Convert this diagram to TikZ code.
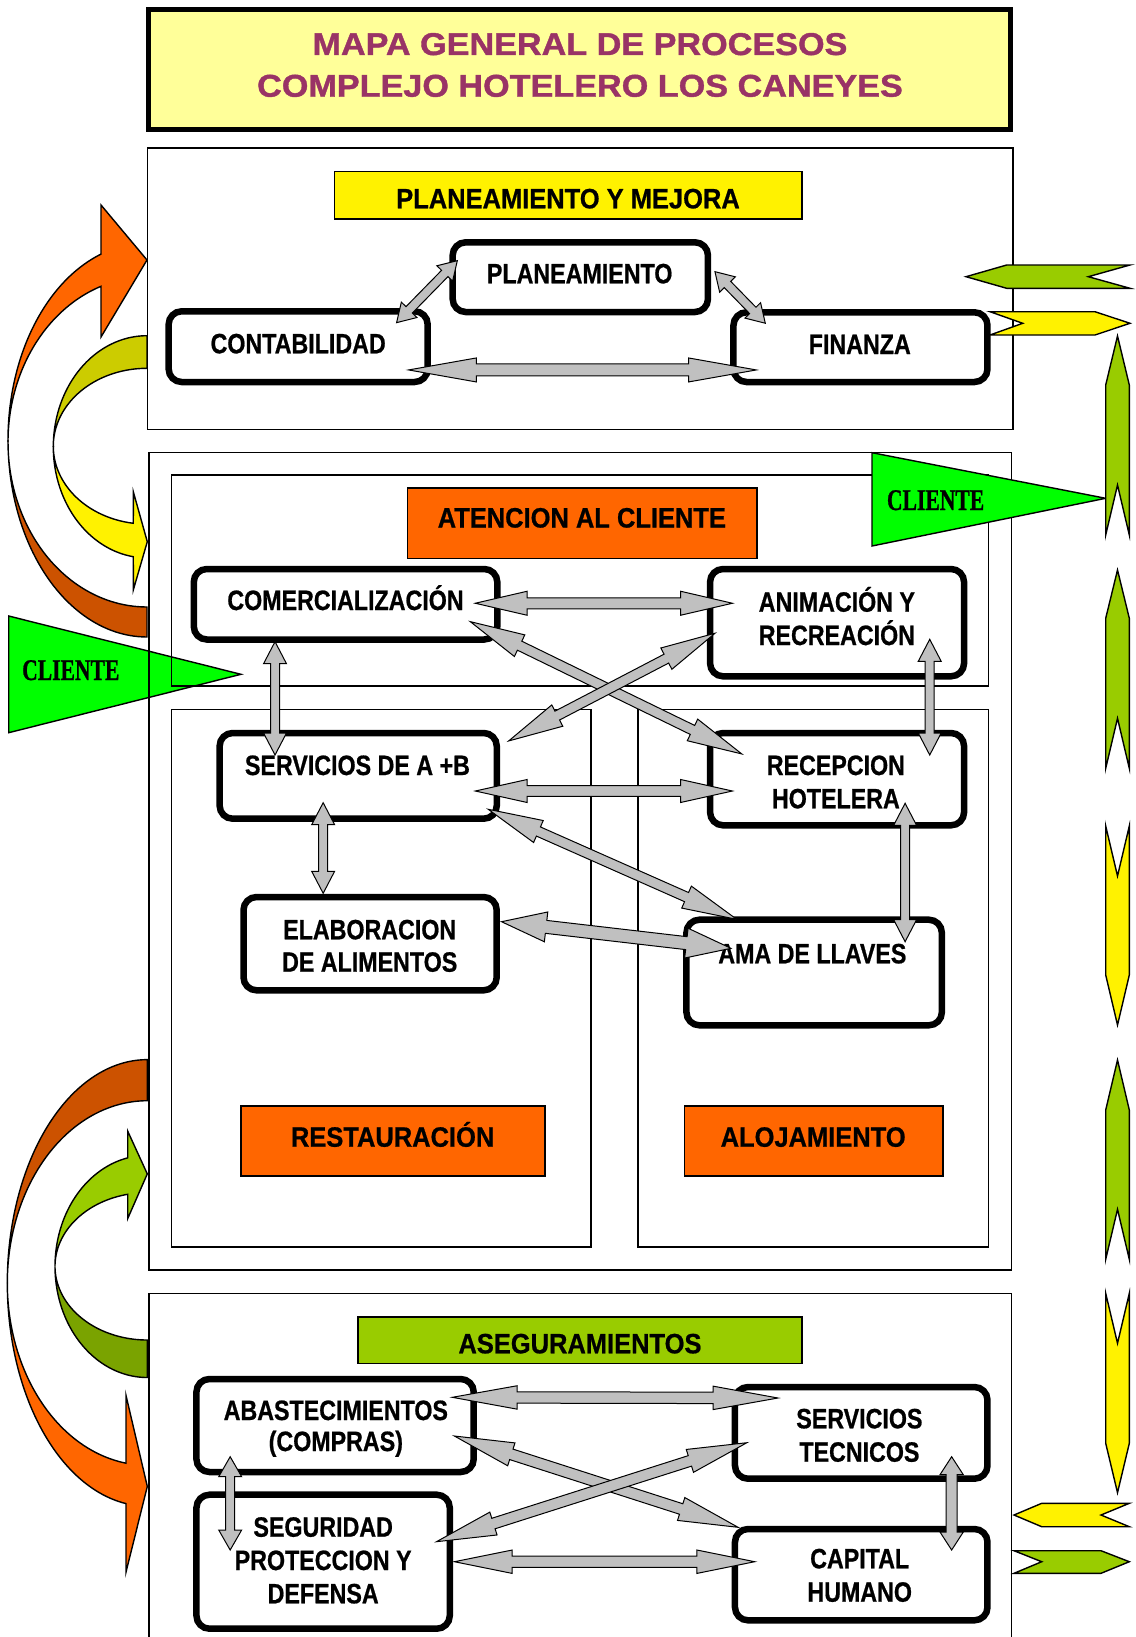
\documentclass[tikz,border=0pt]{standalone}
\usepackage{fontspec}
\usetikzlibrary{calc}
\setmainfont{Liberation Sans}
\newfontfamily\titlefont{Liberation Sans}[FakeStretch=1.085, FakeBold=1.2]
\newfontfamily\headfont{Liberation Sans}[FakeStretch=0.91, FakeBold=0.7]
\newfontfamily\procfont{Liberation Sans}[FakeStretch=0.83, FakeBold=0.7]
\newfontfamily\clientfont{Liberation Serif}[FakeStretch=0.72, FakeBold=0.8]

\definecolor{titlefill}{HTML}{FFFF99}
\definecolor{titletext}{HTML}{993366}
\definecolor{boxorange}{HTML}{FF6600}
\definecolor{darkorange}{HTML}{CC5200}
\definecolor{limegreen}{HTML}{99CC00}
\definecolor{darkgreen}{HTML}{7AA300}
\definecolor{oliveyellow}{HTML}{CCCC00}
\definecolor{brightgreen}{HTML}{00FF00}
\definecolor{arrowgray}{HTML}{C0C0C0}

\tikzset{
  procbox/.style={draw=black, line width=6.5pt, fill=white, rounded corners=13pt,
    inner sep=0pt, outer sep=0pt},
  headbox/.style={draw=black, line width=1.6pt, inner sep=0pt, outer sep=0pt},
  sectionbox/.style={draw=black, line width=1.6pt},
  proctext/.style={font=\procfont\bfseries\fontsize{28}{33}\selectfont, anchor=base, inner sep=0pt},
  headtext/.style={font=\headfont\bfseries\fontsize{28}{33}\selectfont, anchor=base, inner sep=0pt},
  titletextstyle/.style={font=\titlefont\bfseries\fontsize{31.5}{36}\selectfont, text=titletext,
    anchor=base, inner sep=0pt},
  clienttext/.style={font=\clientfont\bfseries\fontsize{30}{34}\selectfont, anchor=base, inner sep=0pt},
  twowayarrow/.style={fill=arrowgray, draw=black, line width=1pt, line join=miter},
  shapeline/.style={draw=black, line width=1.4pt, line join=miter},
}

% two-headed block arrow between two points:
% #1,#2 tips, #3 half shaft width, #4 half head width, #5 head length
\newcommand\drawtwoway[5]{%
  \filldraw[twowayarrow] (#1)
    -- ($(#1)!#5pt!(#2)!#4pt!90:(#2)$)
    -- ($(#1)!#5pt!(#2)!#3pt!90:(#2)$)
    -- ($(#2)!#5pt!(#1)!#3pt!-90:(#1)$)
    -- ($(#2)!#5pt!(#1)!#4pt!-90:(#1)$)
    -- (#2)
    -- ($(#2)!#5pt!(#1)!#4pt!90:(#1)$)
    -- ($(#2)!#5pt!(#1)!#3pt!90:(#1)$)
    -- ($(#1)!#5pt!(#2)!#3pt!-90:(#2)$)
    -- ($(#1)!#5pt!(#2)!#4pt!-90:(#2)$)
    -- cycle;}

\begin{document}
\begin{tikzpicture}[x=1pt, y=-1pt]
\useasboundingbox (0,0) rectangle (1135,1637);
\clip (0,0) rectangle (1135,1637);
\fill[white] (0,0) rectangle (1135,1637);

% ---------- curved feedback arrows on the left ----------
% upper pair
\filldraw[shapeline, fill=darkorange]
  plot[domain=180:90, samples=50, variable=\t] ({147+139*cos(\t)},{440+197*sin(\t)})
  -- plot[domain=90:180, samples=50, variable=\t] ({147+139*cos(\t)},{442+165*sin(\t)}) -- cycle;
\filldraw[shapeline, fill=boxorange]
  plot[domain=180:250.67, samples=50, variable=\t] ({147+139*cos(\t)},{440+197*sin(\t)})
  -- (101,205) -- (147,260) -- (101,337)
  -- plot[domain=250.67:180, samples=50, variable=\t] ({147+139*cos(\t)},{442+165*sin(\t)}) -- cycle;
\filldraw[shapeline, fill=oliveyellow]
  plot[domain=270:180, samples=50, variable=\t] ({147+93.7*cos(\t)},{446.8+111.1*sin(\t)})
  -- plot[domain=180:270, samples=50, variable=\t] ({147+93.7*cos(\t)},{446.2+77.9*sin(\t)}) -- cycle;
\filldraw[shapeline, fill=yellow]
  plot[domain=180:98.41, samples=50, variable=\t] ({147+93.7*cos(\t)},{446.8+111.1*sin(\t)})
  -- (133.3,590) -- (147.3,541.7) -- (133.3,491.7)
  -- plot[domain=98.41:180, samples=50, variable=\t] ({147+93.7*cos(\t)},{446.2+77.9*sin(\t)}) -- cycle;
% lower pair
\filldraw[shapeline, fill=darkorange]
  plot[domain=270:180, samples=50, variable=\t] ({147.3+140*cos(\t)},{1282.9+223.3*sin(\t)})
  -- plot[domain=180:270, samples=50, variable=\t] ({147.3+140*cos(\t)},{1283+182.3*sin(\t)}) -- cycle;
\filldraw[shapeline, fill=boxorange]
  plot[domain=180:98.75, samples=50, variable=\t] ({147.3+140*cos(\t)},{1282.9+223.3*sin(\t)})
  -- (126,1572.1) -- (147.3,1486.4) -- (126,1395.4)
  -- plot[domain=98.75:180, samples=50, variable=\t] ({147.3+140*cos(\t)},{1283+182.3*sin(\t)}) -- cycle;
\filldraw[shapeline, fill=darkgreen]
  plot[domain=180:90, samples=50, variable=\t] ({147.3+92.3*cos(\t)},{1266.4+111.1*sin(\t)})
  -- plot[domain=90:180, samples=50, variable=\t] ({147.3+92.3*cos(\t)},{1266.3+73.7*sin(\t)}) -- cycle;
\filldraw[shapeline, fill=limegreen]
  plot[domain=180:257.74, samples=50, variable=\t] ({147.3+92.3*cos(\t)},{1266.4+111.1*sin(\t)})
  -- (127.7,1131.1) -- (147.3,1173.9) -- (127.7,1218.6)
  -- plot[domain=257.74:180, samples=50, variable=\t] ({147.3+92.3*cos(\t)},{1266.3+73.7*sin(\t)}) -- cycle;

% ---------- incoming client ----------
\filldraw[shapeline, fill=brightgreen] (8.7,616) -- (8.7,732.7) -- (241,674.3) -- cycle;
\node[clienttext] (clientin) at (70.8,680) {CLIENTE};

\begin{scope}[xscale=0.9965]
% ---------- title ----------
\node[draw=black, line width=5pt, fill=titlefill, minimum width=862pt, minimum height=120pt,
  inner sep=0pt, outer sep=0pt] (titlebox) at (582,69.5) {};
\node[titletextstyle] (title1) at (582,55) {MAPA GENERAL DE PROCESOS};
\node[titletextstyle] (title2) at (582,96.7) {COMPLEJO HOTELERO LOS CANEYES};

% ---------- process areas ----------
\draw[sectionbox] (148,148.3) rectangle (1016.7,429.3);
\draw[sectionbox] (149.4,452.3) rectangle (1015,1270);
\draw[sectionbox] (172,475) rectangle (992,686);
\draw[sectionbox] (172,709.3) rectangle (593.3,1246.7);
\draw[sectionbox] (640.5,709.3) rectangle (992,1246.7);
\draw[sectionbox] (149.4,1293.3) rectangle (1015,1680);

% ---------- area headings ----------
\node[headbox, fill=yellow, minimum width=467.5pt, minimum height=47.6pt] (pmhead) at (570.05,195.5) {};
\node[headtext] (pmtext) at (570,208.3) {PLANEAMIENTO Y MEJORA};
\node[headbox, fill=boxorange, minimum width=349.5pt, minimum height=70.6pt] (atnhead) at (584.25,523) {};
\node[headtext] (atntext) at (583.9,527.5) {ATENCION AL CLIENTE};
\node[headbox, fill=boxorange, minimum width=304pt, minimum height=70pt] (resthead) at (394.3,1141) {};
\node[headtext] (resttext) at (394,1146.7) {RESTAURACIÓN};
\node[headbox, fill=boxorange, minimum width=258.4pt, minimum height=70pt] (alojhead) at (816.65,1141) {};
\node[headtext] (alojtext) at (816,1146.7) {ALOJAMIENTO};
\node[headbox, fill=limegreen, minimum width=443.5pt, minimum height=46.6pt] (aseghead) at (582.05,1340) {};
\node[headtext] (asegtext) at (582,1353.3) {ASEGURAMIENTOS};

% ---------- processes ----------
\node[procbox, minimum width=255.3pt, minimum height=69.7pt] (plan) at (582.35,277.15) {};
\node[procbox, minimum width=259pt, minimum height=70.7pt] (cont) at (299.2,346.65) {};
\node[procbox, minimum width=254pt, minimum height=69.7pt] (fin) at (863.5,347.15) {};
\node[proctext] (plant) at (581.7,283.3) {PLANEAMIENTO};
\node[proctext] (contt) at (299.2,353.3) {CONTABILIDAD};
\node[proctext] (fint) at (862.8,354) {FINANZA};

\node[procbox, minimum width=303.5pt, minimum height=70.5pt] (comer) at (346.75,604.25) {};
\node[procbox, minimum width=254pt, minimum height=107.3pt] (anim) at (840,622.65) {};
\node[procbox, minimum width=277.1pt, minimum height=85.7pt] (serv) at (359.45,775.85) {};
\node[procbox, minimum width=254pt, minimum height=92.3pt] (recep) at (840,779.15) {};
\node[procbox, minimum width=253.2pt, minimum height=93.3pt] (elab) at (371.4,943.65) {};
\node[procbox, minimum width=255.4pt, minimum height=105.6pt] (ama) at (817,972.5) {};
\node[proctext] (comert) at (346.7,610) {COMERCIALIZACIÓN};
\node[proctext] (animta) at (839.8,611.7) {ANIMACIÓN Y};
\node[proctext] (animtb) at (839.8,645) {RECREACIÓN};
\node[proctext] (servt) at (358.7,775) {SERVICIOS DE A +B};
\node[proctext] (recepta) at (838.8,775) {RECEPCION};
\node[proctext] (receptb) at (838.8,808.3) {HOTELERA};
\node[proctext] (elabta) at (371,939.3) {ELABORACION};
\node[proctext] (elabtb) at (371,971.7) {DE ALIMENTOS};
\node[proctext] (amat) at (815.2,963.3) {AMA DE LLAVES};

\node[procbox, minimum width=277.3pt, minimum height=93pt] (abast) at (336.25,1425.5) {};
\node[procbox, minimum width=252.5pt, minimum height=91.7pt] (stec) at (864.25,1432.85) {};
\node[procbox, minimum width=253.3pt, minimum height=134pt] (segur) at (324.25,1561.7) {};
\node[procbox, minimum width=252.5pt, minimum height=91.3pt] (capital) at (864.25,1574.65) {};
\node[proctext] (abastta) at (337,1420) {ABASTECIMIENTOS};
\node[proctext] (abasttb) at (337,1451) {(COMPRAS)};
\node[proctext] (stecta) at (862.4,1428.3) {SERVICIOS};
\node[proctext] (stectb) at (862.4,1461.7) {TECNICOS};
\node[proctext] (segurta) at (324.3,1536.7) {SEGURIDAD};
\node[proctext] (segurtb) at (324.3,1570) {PROTECCION Y};
\node[proctext] (segurtc) at (324.3,1603.3) {DEFENSA};
\node[proctext] (capta) at (862.7,1568.3) {CAPITAL};
\node[proctext] (captb) at (862.7,1601.7) {HUMANO};

% ---------- links between processes ----------
\coordinate (cp1) at ($(cont)+(98.8,-24)$);
\coordinate (cp2) at ($(plan)+(-123.4,-16.5)$);
\drawtwoway{cp1}{cp2}{4.5}{11}{18}
\coordinate (pf1) at ($(plan)+(135.1,-5.5)$);
\coordinate (pf2) at ($(fin)+(-95.5,-23.9)$);
\drawtwoway{pf1}{pf2}{4.5}{11}{18}
\coordinate (cf1) at ($(cont)+(110.8,23.3)$);
\coordinate (cf2) at ($(fin)+(-104.5,22.8)$);
\drawtwoway{cf1}{cf2}{6}{12}{68}

\coordinate (ca1) at ($(comer)+(130.2,-1)$);
\coordinate (ca2) at ($(anim)+(-105,-19.4)$);
\drawtwoway{ca1}{ca2}{5.5}{12}{52}
\coordinate (cr1) at ($(comer)+(125.2,17.4)$);
\coordinate (cr2) at ($(recep)+(-95.6,-25.2)$);
\drawtwoway{cr1}{cr2}{5}{12}{55}
\coordinate (sa1) at ($(serv)+(151,-34.9)$);
\coordinate (sa2) at ($(anim)+(-122.5,10.6)$);
\drawtwoway{sa1}{sa2}{5}{12}{55}
\coordinate (cs1) at ($(comer)+(-70.75,37.45)$);
\coordinate (cs2) at ($(serv)+(-83.45,-20.85)$);
\drawtwoway{cs1}{cs2}{4.5}{11.5}{22}
\coordinate (ar1) at ($(anim)+(93,16.65)$);
\coordinate (ar2) at ($(recep)+(93,-24.15)$);
\drawtwoway{ar1}{ar2}{4.5}{11.5}{22}
\coordinate (sr1) at ($(serv)+(117.55,15.15)$);
\coordinate (sr2) at ($(recep)+(-105,11.85)$);
\drawtwoway{sr1}{sr2}{5.3}{11.5}{52}
\coordinate (se1) at ($(serv)+(-35.15,26.85)$);
\coordinate (se2) at ($(elab)+(-47.1,-50.35)$);
\drawtwoway{se1}{se2}{4.5}{11.5}{22}
\coordinate (sm1) at ($(serv)+(130.55,33.45)$);
\coordinate (sm2) at ($(ama)+(-77.7,-53.2)$);
\drawtwoway{sm1}{sm2}{5}{12}{55}
\coordinate (em1) at ($(elab)+(131.9,-21.95)$);
\coordinate (em2) at ($(ama)+(-83.5,-24.2)$);
\drawtwoway{em1}{em2}{6.5}{15}{45}
\coordinate (rm1) at ($(recep)+(68.3,24.15)$);
\coordinate (rm2) at ($(ama)+(91.3,-30.8)$);
\drawtwoway{rm1}{rm2}{4.5}{11.5}{22}

\coordinate (as1) at ($(abast)+(117.65,-28.2)$);
\coordinate (as2) at ($(stec)+(-83.55,-34.85)$);
\drawtwoway{as1}{as2}{5.7}{11.7}{65}
\coordinate (ac1) at ($(abast)+(119.75,10.5)$);
\coordinate (ac2) at ($(capital)+(-123.55,-47.35)$);
\drawtwoway{ac1}{ac2}{5.5}{12}{60}
\coordinate (gs1) at ($(segur)+(113.75,-20)$);
\coordinate (gs2) at ($(stec)+(-114.75,9.85)$);
\drawtwoway{gs1}{gs2}{5.5}{12}{60}
\coordinate (gc1) at ($(segur)+(131.75,0)$);
\coordinate (gc2) at ($(capital)+(-106.85,-12.95)$);
\drawtwoway{gc1}{gc2}{5.7}{11.7}{58}
\coordinate (ag1) at ($(abast)+(-105.25,31.2)$);
\coordinate (ag2) at ($(segur)+(-93.25,-11.7)$);
\drawtwoway{ag1}{ag2}{4.5}{11.5}{20}
\coordinate (sc1) at ($(stec)+(90.75,23.85)$);
\coordinate (sc2) at ($(capital)+(90.75,-24.65)$);
\drawtwoway{sc1}{sc2}{5.5}{11.7}{18}
\end{scope}

% ---------- outgoing client ----------
\filldraw[shapeline, fill=brightgreen] (872,452.7) -- (872,546) -- (1105.7,498.3) -- cycle;
\node[clienttext] (clientout) at (935.6,510) {CLIENTE};

% ---------- flow chevrons on the right ----------
\filldraw[shapeline, fill=limegreen] (966,276.7) -- (1006.7,265) -- (1130,265) -- (1088.3,276.7)
  -- (1130,288.3) -- (1006.7,288.3) -- cycle;
\filldraw[shapeline, fill=yellow] (990,311.7) -- (1095,311.7) -- (1130,323.3) -- (1095,335)
  -- (990,335) -- (1022.7,323.3) -- cycle;
\filldraw[shapeline, fill=limegreen] (1117.5,336) -- (1129.3,385) -- (1129.3,535) -- (1117.5,485)
  -- (1105.7,535) -- (1105.7,385) -- cycle;
\filldraw[shapeline, fill=limegreen] (1117.5,570) -- (1129.3,618.3) -- (1129.3,768.3) -- (1117.5,718.3)
  -- (1105.7,768.3) -- (1105.7,618.3) -- cycle;
\filldraw[shapeline, fill=yellow] (1105.7,826) -- (1117.5,876) -- (1129.3,826) -- (1129.3,975)
  -- (1117.5,1025) -- (1105.7,975) -- cycle;
\filldraw[shapeline, fill=limegreen] (1117.5,1060) -- (1129.3,1110) -- (1129.3,1259.3) -- (1117.5,1209.3)
  -- (1105.7,1259.3) -- (1105.7,1110) -- cycle;
\filldraw[shapeline, fill=yellow] (1105.7,1293.3) -- (1117.5,1343.3) -- (1129.3,1293.3) -- (1129.3,1443.3)
  -- (1117.5,1492.7) -- (1105.7,1443.3) -- cycle;
\filldraw[shapeline, fill=yellow] (1014,1515) -- (1041.7,1503.3) -- (1129.3,1503.3) -- (1101,1515)
  -- (1129.3,1526.7) -- (1041.7,1526.7) -- cycle;
\filldraw[shapeline, fill=limegreen] (1014,1550.7) -- (1101,1550.7) -- (1129.3,1561.7) -- (1101,1573.3)
  -- (1014,1573.3) -- (1041.7,1561.7) -- cycle;
\end{tikzpicture}
\end{document}
